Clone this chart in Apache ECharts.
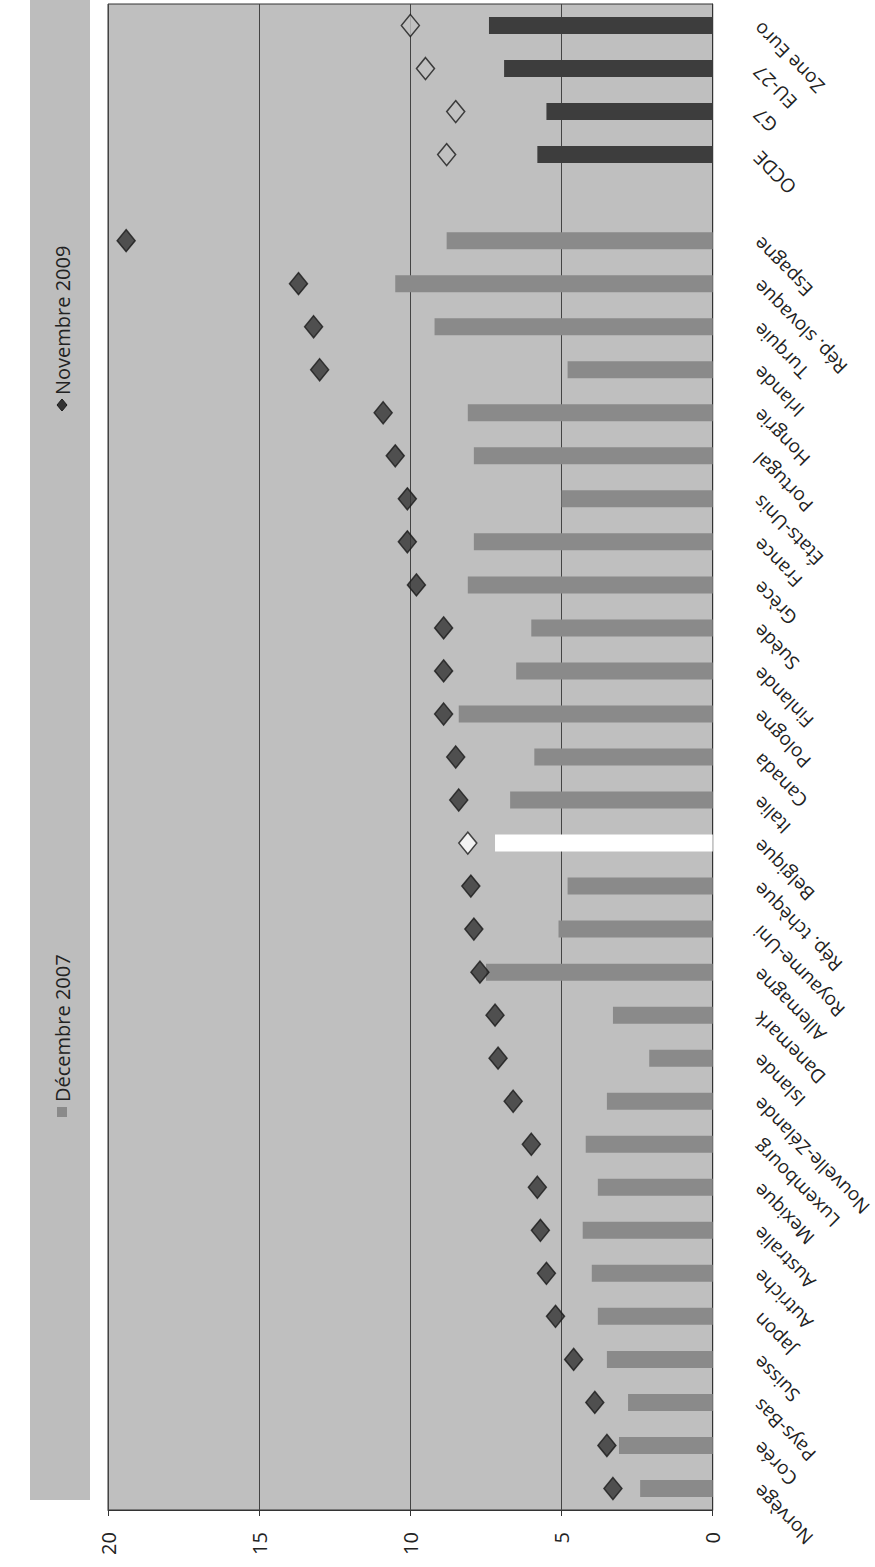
<!DOCTYPE html>
<html>
<head>
<meta charset="utf-8">
<script src="https://cdn.jsdelivr.net/npm/echarts@6/dist/echarts.min.js"></script>
<style>
  html, body { margin: 0; padding: 0; background: #ffffff; }
  #chart { width: 875px; height: 1567px; }
</style>
</head>
<body>
<div id="chart"></div>
<script>
// Categories, bottom to top ('' = empty slot between countries and aggregates)
const categories = ['Norvège', 'Corée', 'Pays-Bas', 'Suisse', 'Japon', 'Autriche', 'Australie', 'Mexique',
  'Luxembourg', 'Nouvelle-Zélande', 'Islande', 'Danemark', 'Allemagne', 'Royaume-Uni', 'Rép. tchèque',
  'Belgique', 'Italie', 'Canada', 'Pologne', 'Finlande', 'Suède', 'Grèce', 'France', 'États-Unis',
  'Portugal', 'Hongrie', 'Irlande', 'Turquie', 'Rép. slovaque', 'Espagne', '', 'OCDE', 'G7', 'EU-27', 'Zone Euro'];

const decembre2007 = [2.4, 3.1, 2.8, 3.5, 3.8, 4.0, 4.3, 3.8, 4.2, 3.5, 2.1, 3.3, 7.5, 5.1, 4.8,
  7.2, 6.7, 5.9, 8.4, 6.5, 6.0, 8.1, 7.9, 5.0, 7.9, 8.1, 4.8, 9.2, 10.5, 8.8, null, 5.8, 5.5, 6.9, 7.4];

const novembre2009 = [3.3, 3.5, 3.9, 4.6, 5.2, 5.5, 5.7, 5.8, 6.0, 6.6, 7.1, 7.2, 7.7, 7.9, 8.0,
  8.1, 8.4, 8.5, 8.9, 8.9, 8.9, 9.8, 10.1, 10.1, 10.5, 10.9, 13.0, 13.2, 13.7, 19.4, null, 8.8, 8.5, 9.5, 10.0];

const valueTicks = [0, 5, 10, 15, 20];
const seriesNames = ['Décembre 2007', 'Novembre 2009'];

const aggregates = ['OCDE', 'G7', 'EU-27', 'Zone Euro'];
const highlighted = 'Belgique';

const BAR = '#8a8a8a', BAR_AGG = '#3d3d3d', BAR_HL = '#ffffff';
const DIA = '#333333', DIA_AGG = '#c2c2c2', DIA_HL = '#ffffff';

const barData = decembre2007.map((v, i) => {
  const c = categories[i];
  const color = aggregates.includes(c) ? BAR_AGG : (c === highlighted ? BAR_HL : BAR);
  return { value: v, itemStyle: { color: color } };
});

const dotData = novembre2009.map((v, i) => {
  const c = categories[i];
  const fill = aggregates.includes(c) ? DIA_AGG : (c === highlighted ? DIA_HL : DIA);
  return { value: [v, c], itemStyle: { color: fill, borderColor: '#1a1a1a', borderWidth: 1.5 } };
});

const chart = echarts.init(document.getElementById('chart'), null, { renderer: 'svg' });

const FONT = '"Open Sans", "DejaVu Sans", sans-serif';

chart.setOption({
  backgroundColor: '#ffffff',
  animation: false,
  textStyle: { fontFamily: FONT },
  grid: {
    left: 108, right: 160, top: 4, bottom: 57,
    show: true, backgroundColor: '#bfbfbf', borderColor: '#333', borderWidth: 1
  },
  xAxis: {
    type: 'value', min: valueTicks[0], max: valueTicks[valueTicks.length - 1], interval: 5,
    inverse: true,
    axisLine: { show: true, lineStyle: { color: '#333', width: 1 } },
    axisTick: { show: true, length: 6, lineStyle: { color: '#333' } },
    splitLine: { show: true, lineStyle: { color: '#444', width: 1 } },
    axisLabel: { rotate: 90, margin: 22, fontSize: 20, color: '#222', fontFamily: FONT }
  },
  yAxis: {
    type: 'category', data: categories, position: 'right',
    axisLine: { show: true, lineStyle: { color: '#333', width: 1 } },
    axisTick: { show: false },
    splitLine: { show: false },
    axisLabel: {
      interval: 0, rotate: 135, align: 'right', verticalAlign: 'middle',
      margin: 44, fontSize: 19, color: '#222', fontFamily: FONT
    }
  },
  series: [
    {
      name: seriesNames[0], type: 'bar', data: barData, barWidth: 17, barGap: '-100%'
    },
    {
      name: seriesNames[1], type: 'scatter', data: dotData, symbol: 'diamond',
      symbolSize: [18, 22], z: 5
    }
  ],
  graphic: [
    { type: 'rect', shape: { x: 30, y: 0, width: 60, height: 1500 }, style: { fill: '#bdbdbd' }, z: -1 },
    {
      type: 'group', x: 62, y: 1112, rotation: Math.PI / 2,
      children: [
        { type: 'rect', shape: { x: -5, y: -5, width: 10, height: 10 }, style: { fill: BAR } },
        { type: 'text', x: 10, y: 0, style: { text: seriesNames[0], fontSize: 20, fontFamily: FONT,
          fill: '#222', verticalAlign: 'middle', align: 'left' } }
      ]
    },
    {
      type: 'group', x: 62, y: 405, rotation: Math.PI / 2,
      children: [
        { type: 'polygon', shape: { points: [[-6, 0], [0, -5], [6, 0], [0, 5]] },
          style: { fill: DIA, stroke: '#1a1a1a', lineWidth: 1 } },
        { type: 'text', x: 10, y: 0, style: { text: seriesNames[1], fontSize: 20, fontFamily: FONT,
          fill: '#222', verticalAlign: 'middle', align: 'left' } }
      ]
    }
  ]
});
</script>
</body>
</html>
